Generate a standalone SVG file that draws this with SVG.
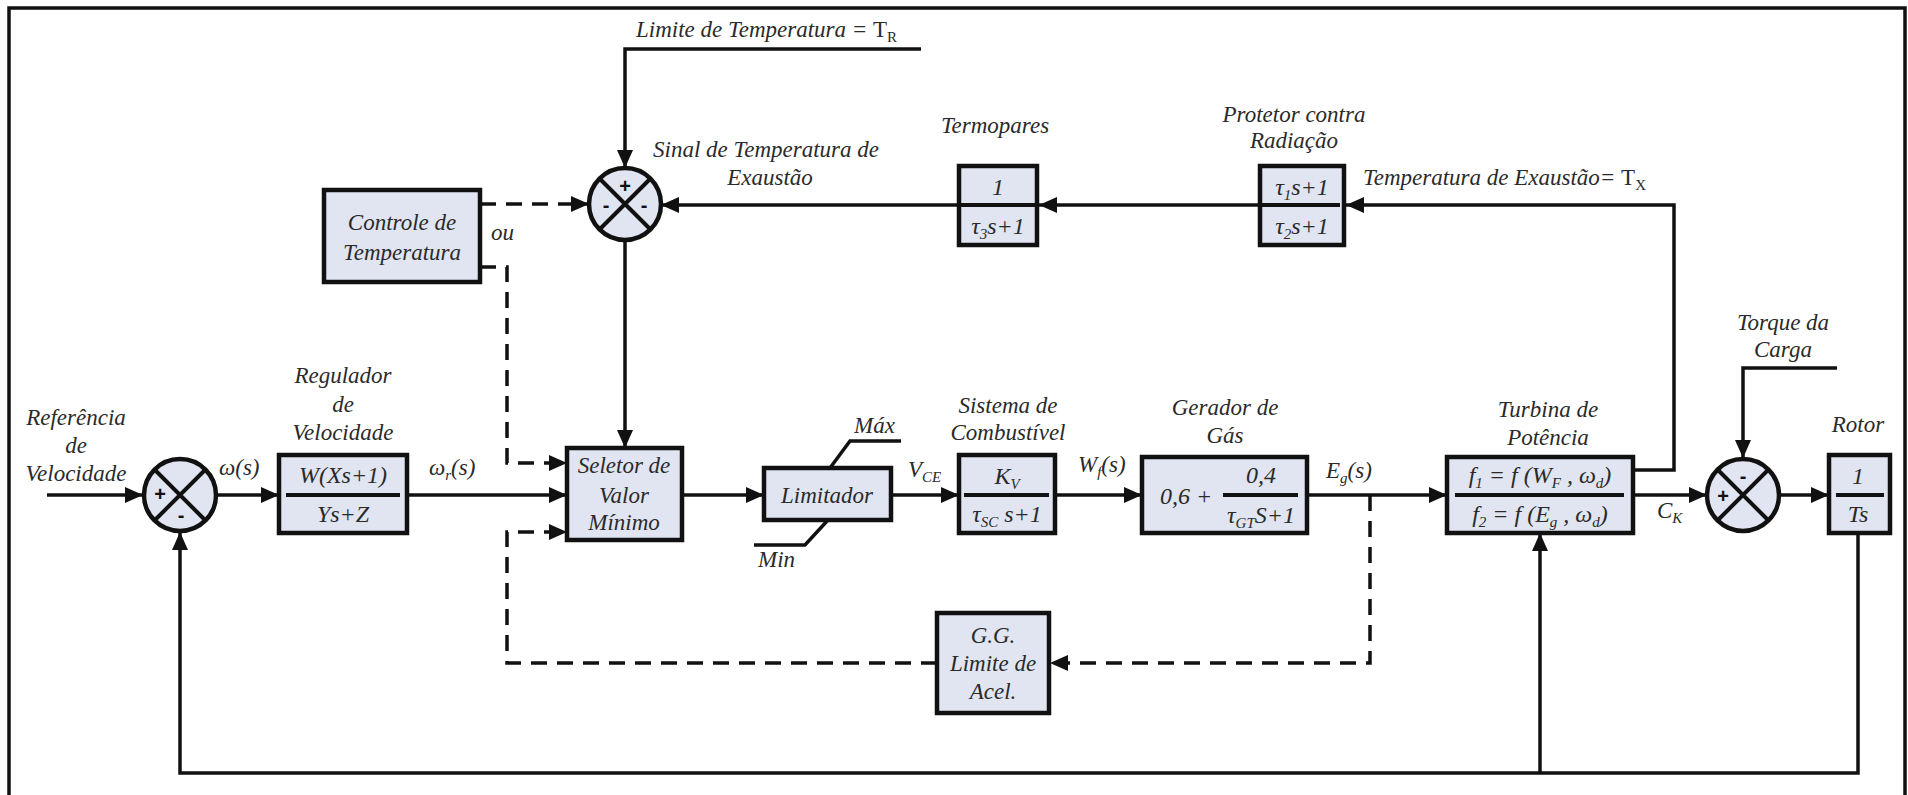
<svg xmlns="http://www.w3.org/2000/svg" width="1908" height="795" viewBox="0 0 1908 795">
  <style>
    .ln { fill: none; stroke: #111; stroke-width: 3.5; }
    .dash { stroke-dasharray: 16 10; }
    .box { fill: #e0e5f1; stroke: #111; stroke-width: 4.5; }
    .bar { stroke: #111; stroke-width: 4; }
    .sum { fill: #e0e5f1; stroke: #111; stroke-width: 4.5; }
    .x { stroke: #111; stroke-width: 4; }
    text { font-family: "Liberation Serif", "Times New Roman", serif; font-style: italic; font-size: 23px; fill: #2a2a2a; }
    .c { text-anchor: middle; }
    .f { font-size: 24px; }
    .sub { font-size: 15px; }
    .rm { font-style: normal; }
    .sg { font-family: "Liberation Sans", Arial, sans-serif; font-style: normal; font-weight: bold; font-size: 20px; fill: #111; text-anchor: middle; dominant-baseline: central; }
  </style>
  <defs>
    <marker id="arw" markerUnits="userSpaceOnUse" markerWidth="18" markerHeight="18" viewBox="0 0 18 18" refX="18" refY="9" orient="auto">
      <path d="M0,1 L18,9 L0,17 z" fill="#111"/>
    </marker>
  </defs>

  <!-- frame -->
  <path class="ln" d="M9,800 V8 H1905 V800"/>

  <!-- connectors -->
  <g id="connectors">
    <path class="ln" d="M47,495 H143" marker-end="url(#arw)"/>
    <path class="ln" d="M217,495 H279" marker-end="url(#arw)"/>
    <path class="ln" d="M407,495 H567" marker-end="url(#arw)"/>
    <path class="ln" d="M682,495 H764" marker-end="url(#arw)"/>
    <path class="ln" d="M891,495 H959" marker-end="url(#arw)"/>
    <path class="ln" d="M1055,495 H1142" marker-end="url(#arw)"/>
    <path class="ln" d="M1307,495 H1447" marker-end="url(#arw)"/>
    <path class="ln" d="M1633,495 H1707" marker-end="url(#arw)"/>
    <path class="ln" d="M1779,495 H1829" marker-end="url(#arw)"/>
    <path class="ln" d="M1858,533 V773 H180 V532" marker-end="url(#arw)"/>
    <path class="ln" d="M1540,773 V533" marker-end="url(#arw)"/>
    <path class="ln" d="M1837,368 H1743 V458" marker-end="url(#arw)"/>
    <path class="ln" d="M1633,470 H1674 V205 H1346" marker-end="url(#arw)"/>
    <path class="ln" d="M1260,205 H1039" marker-end="url(#arw)"/>
    <path class="ln" d="M959,205 H661" marker-end="url(#arw)"/>
    <path class="ln" d="M921,49 H625 V168" marker-end="url(#arw)"/>
    <path class="ln" d="M625,240 V448" marker-end="url(#arw)"/>
    <path class="ln dash" d="M480,204 H589" marker-end="url(#arw)"/>
    <path class="ln dash" d="M480,267 H507 V463 H567" marker-end="url(#arw)"/>
    <path class="ln dash" d="M1370,495 V663 H1050" marker-end="url(#arw)"/>
    <path class="ln dash" d="M937,663 H507 V532 H567" marker-end="url(#arw)"/>
    <!-- limiter saturation marks -->
    <path class="ln" d="M830,468 L850,441 H901"/>
    <path class="ln" d="M828,520 L805,545 H754"/>
  </g>

  <!-- free labels -->
  <g id="labels">
    <text x="636" y="37">Limite de Temperatura = <tspan class="rm">T</tspan><tspan class="sub rm" dy="5">R</tspan></text>
    <text x="653" y="157">Sinal de Temperatura de</text>
    <text class="c" x="770" y="185">Exaustão</text>
    <text x="1363" y="185">Temperatura de Exaustão= <tspan class="rm">T</tspan><tspan class="sub rm" dy="5">X</tspan></text>
    <text class="c" x="1783" y="330">Torque da</text>
    <text class="c" x="1783" y="357">Carga</text>
    <text class="c" x="76" y="425">Referência</text>
    <text class="c" x="76" y="453">de</text>
    <text class="c" x="76" y="481">Velocidade</text>
    <text x="491" y="240">ou</text>
    <text x="219" y="475">ω(s)</text>
    <text x="429" y="475">ω<tspan class="sub" dy="5">r</tspan><tspan dy="-5">(s)</tspan></text>
    <text x="908" y="477">V<tspan class="sub" dy="5">CE</tspan></text>
    <text x="1078" y="472">W<tspan class="sub" dy="5">f</tspan><tspan dy="-5">(s)</tspan></text>
    <text x="1326" y="478">E<tspan class="sub" dy="5">g</tspan><tspan dy="-5">(s)</tspan></text>
    <text x="1657" y="518">C<tspan class="sub" dy="5">K</tspan></text>
    <text x="854" y="433">Máx</text>
    <text x="758" y="567">Min</text>
  </g>

  <!-- temperature limit summing junction -->
  <g id="sum-temp">
    <circle class="sum" cx="625" cy="204" r="36"/>
    <path class="x" d="M600,179 L650,229 M650,179 L600,229"/>
    <text class="sg" x="625" y="186">+</text>
    <text class="sg" x="606" y="205">-</text>
    <text class="sg" x="644" y="205">-</text>
  </g>

  <!-- speed error summing junction -->
  <g id="sum-speed">
    <circle class="sum" cx="180" cy="495" r="36"/>
    <path class="x" d="M155,470 L205,520 M205,470 L155,520"/>
    <text class="sg" x="160" y="494">+</text>
    <text class="sg" x="181" y="515">-</text>
  </g>

  <!-- torque summing junction -->
  <g id="sum-torque">
    <circle class="sum" cx="1743" cy="495" r="36"/>
    <path class="x" d="M1718,470 L1768,520 M1768,470 L1718,520"/>
    <text class="sg" x="1743" y="476">-</text>
    <text class="sg" x="1723" y="496">+</text>
  </g>

  <g id="controle-temperatura">
    <rect class="box" x="324" y="190" width="156" height="92"/>
    <text class="c" x="402" y="230">Controle de</text>
    <text class="c" x="402" y="260">Temperatura</text>
  </g>

  <g id="termopares">
    <text class="c" x="995" y="133">Termopares</text>
    <rect class="box" x="959" y="166" width="78" height="79"/>
    <line class="bar" x1="961" y1="205" x2="1035" y2="205"/>
    <text class="c f" x="998" y="195">1</text>
    <text class="c f" x="998" y="234">τ<tspan class="sub" dy="5">3</tspan><tspan dy="-5">s+1</tspan></text>
  </g>

  <g id="protetor-radiacao">
    <text class="c" x="1294" y="122">Protetor contra</text>
    <text class="c" x="1294" y="148">Radiação</text>
    <rect class="box" x="1260" y="166" width="84" height="79"/>
    <line class="bar" x1="1260" y1="205" x2="1340" y2="205"/>
    <text class="c f" x="1302" y="195">τ<tspan class="sub" dy="5">1</tspan><tspan dy="-5">s+1</tspan></text>
    <text class="c f" x="1302" y="234">τ<tspan class="sub" dy="5">2</tspan><tspan dy="-5">s+1</tspan></text>
  </g>

  <g id="regulador-velocidade">
    <text class="c" x="343" y="383">Regulador</text>
    <text class="c" x="343" y="412">de</text>
    <text class="c" x="343" y="440">Velocidade</text>
    <rect class="box" x="279" y="455" width="128" height="78"/>
    <line class="bar" x1="286" y1="495" x2="400" y2="495"/>
    <text class="c f" x="343" y="483">W(Xs+1)</text>
    <text class="c f" x="343" y="522">Ys+Z</text>
  </g>

  <g id="seletor-valor-minimo">
    <rect class="box" x="567" y="448" width="115" height="92"/>
    <text class="c" x="624" y="473">Seletor de</text>
    <text class="c" x="624" y="503">Valor</text>
    <text class="c" x="624" y="530">Mínimo</text>
  </g>

  <g id="limitador">
    <rect class="box" x="764" y="468" width="127" height="52"/>
    <text class="c" x="827" y="503">Limitador</text>
  </g>

  <g id="sistema-combustivel">
    <text class="c" x="1008" y="413">Sistema de</text>
    <text class="c" x="1008" y="440">Combustível</text>
    <rect class="box" x="959" y="455" width="96" height="78"/>
    <line class="bar" x1="964" y1="495" x2="1049" y2="495"/>
    <text class="c f" x="1007" y="484">K<tspan class="sub" dy="5">V</tspan></text>
    <text class="c f" x="1007" y="522">τ<tspan class="sub" dy="5">SC</tspan><tspan dy="-5"> s+1</tspan></text>
  </g>

  <g id="gerador-gas">
    <text class="c" x="1225" y="415">Gerador de</text>
    <text class="c" x="1225" y="443">Gás</text>
    <rect class="box" x="1142" y="457" width="165" height="76"/>
    <text class="f" x="1160" y="504">0,6 +</text>
    <line class="bar" x1="1223" y1="495" x2="1298" y2="495"/>
    <text class="c f" x="1261" y="483">0,4</text>
    <text class="c f" x="1261" y="523">τ<tspan class="sub" dy="5">GT</tspan><tspan dy="-5">S+1</tspan></text>
  </g>

  <g id="gg-limite-acel">
    <rect class="box" x="937" y="613" width="112" height="100"/>
    <text class="c" x="993" y="643">G.G.</text>
    <text class="c" x="993" y="671">Limite de</text>
    <text class="c" x="993" y="699">Acel.</text>
  </g>

  <g id="turbina-potencia">
    <text class="c" x="1548" y="417">Turbina de</text>
    <text class="c" x="1548" y="445">Potência</text>
    <rect class="box" x="1447" y="457" width="186" height="76"/>
    <line class="bar" x1="1455" y1="495" x2="1624" y2="495"/>
    <text class="c f" x="1540" y="483">f<tspan class="sub" dy="5">1</tspan><tspan dy="-5"> = f (W</tspan><tspan class="sub" dy="5">F</tspan><tspan dy="-5"> , ω</tspan><tspan class="sub" dy="5">d</tspan><tspan dy="-5">)</tspan></text>
    <text class="c f" x="1540" y="522">f<tspan class="sub" dy="5">2</tspan><tspan dy="-5"> = f (E</tspan><tspan class="sub" dy="5">g</tspan><tspan dy="-5"> , ω</tspan><tspan class="sub" dy="5">d</tspan><tspan dy="-5">)</tspan></text>
  </g>

  <g id="rotor">
    <text class="c" x="1858" y="432">Rotor</text>
    <rect class="box" x="1829" y="455" width="61" height="78"/>
    <line class="bar" x1="1836" y1="495" x2="1884" y2="495"/>
    <text class="c f" x="1858" y="484">1</text>
    <text class="c f" x="1858" y="522">Ts</text>
  </g>
</svg>
